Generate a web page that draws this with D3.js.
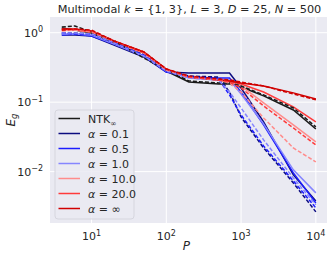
<!DOCTYPE html>
<html>
<head>
<meta charset="utf-8">
<script src="https://cdn.jsdelivr.net/npm/d3@7"></script>
<style>
  body { margin: 0; background: #fff; }
  text { font-family: "DejaVu Sans", sans-serif; fill: #262626; }
</style>
</head>
<body>
<div class="chart"></div>
<script>
(function () {

  var width = 333, height = 258;
  var margin = { top: 17, right: 6, bottom: 35, left: 50 };

  // sample sizes
  var P = [4, 6, 10, 20, 50, 100, 200, 500, 700, 1000, 2000, 5000, 10000];

  // generalization error, solid = theory, dashed = experiment
  var ntkSolid   = [1.169, 1.094, 0.990, 0.711, 0.462, 0.281, 0.195, 0.183, 0.183, 0.165, 0.123, 0.0772, 0.0411];
  var ntkDashed  = [1.208, 1.249, 1.023, 0.760, 0.433, 0.290, 0.202, 0.189, 0.189, 0.171, 0.127, 0.0825, 0.0440];
  var a01Solid   = [0.927, 0.927, 0.897, 0.665, 0.447, 0.272, 0.263, 0.263, 0.263, 0.160, 0.0519, 0.00896, 0.00379];
  var a01Dashed  = [0.990, 0.990, 0.958, 0.711, 0.478, 0.281, 0.238, 0.230, 0.140, 0.0612, 0.0219, 0.00688, 0.00263];
  var a05Solid   = [0.927, 0.958, 0.897, 0.688, 0.462, 0.272, 0.230, 0.223, 0.223, 0.140, 0.0470, 0.00958, 0.00354];
  var a05Dashed  = [0.990, 0.958, 0.958, 0.711, 0.478, 0.281, 0.230, 0.216, 0.127, 0.0654, 0.0234, 0.00735, 0.00300];
  var a1Solid    = [0.958, 0.958, 0.927, 0.688, 0.462, 0.281, 0.223, 0.209, 0.209, 0.131, 0.0486, 0.0106, 0.00494];
  var a1Dashed   = [0.990, 0.990, 0.958, 0.711, 0.462, 0.281, 0.223, 0.209, 0.140, 0.0825, 0.0286, 0.00812, 0.00332];
  var a10Solid   = [1.094, 1.094, 1.023, 0.735, 0.510, 0.290, 0.230, 0.209, 0.195, 0.171, 0.0974, 0.0470, 0.0268];
  var a10Dashed  = [1.058, 1.094, 1.023, 0.760, 0.510, 0.290, 0.230, 0.209, 0.189, 0.140, 0.0593, 0.0219, 0.0138];
  var a20Solid   = [1.131, 1.094, 1.023, 0.760, 0.510, 0.290, 0.230, 0.209, 0.202, 0.183, 0.140, 0.0853, 0.0519];
  var a20Dashed  = [1.094, 1.131, 1.058, 0.760, 0.528, 0.300, 0.230, 0.209, 0.195, 0.160, 0.0882, 0.0425, 0.0242];
  var aInfSolid  = [1.131, 1.131, 1.058, 0.760, 0.528, 0.300, 0.230, 0.209, 0.202, 0.189, 0.171, 0.136, 0.111];
  var aInfDashed = [1.094, 1.131, 1.094, 0.760, 0.528, 0.300, 0.238, 0.216, 0.209, 0.195, 0.171, 0.131, 0.108];

  var labels = ["NTK", "0.1", "0.5", "1.0", "10.0", "20.0", "\u221e"];
  var colors = ["#1a1a1a", "#0c0c80", "#1c1cff", "#8585ff", "#ff8c8c", "#ff3b3b", "#d00000"];
  var solids = [ntkSolid, a01Solid, a05Solid, a1Solid, a10Solid, a20Solid, aInfSolid];
  var dashes = [ntkDashed, a01Dashed, a05Dashed, a1Dashed, a10Dashed, a20Dashed, aInfDashed];

  var xTicks = [10, 100, 1000, 10000];
  var yTicks = [1, 0.1, 0.01];

  var svg = d3.select(".chart").append("svg")
    .attr("width", width)
    .attr("height", height);

  var pw = width - margin.left - margin.right,
      ph = height - margin.top - margin.bottom;

  var x = d3.scaleLog().domain([2.78, 14100]).range([0, pw]);
  var y = d3.scaleLog().domain([0.00182, 1.683]).range([ph, 0]);

  var g = svg.append("g")
    .attr("transform", "translate(" + margin.left + "," + margin.top + ")");

  g.append("rect").attr("width", pw).attr("height", ph).attr("fill", "#eaeaf2");

  // grid
  g.selectAll(".xg").data(xTicks).enter().append("line")
    .attr("x1", d => x(d)).attr("x2", d => x(d))
    .attr("y1", 0).attr("y2", ph)
    .attr("stroke", "#fff").attr("stroke-width", 1);
  g.selectAll(".yg").data(yTicks).enter().append("line")
    .attr("y1", d => y(d)).attr("y2", d => y(d))
    .attr("x1", 0).attr("x2", pw)
    .attr("stroke", "#fff").attr("stroke-width", 1);

  // tick labels
  var xl = g.selectAll(".xl").data(xTicks).enter().append("text")
    .attr("x", d => x(d)).attr("y", ph + 17)
    .attr("text-anchor", "middle").style("font-size", "11px");
  xl.append("tspan").text("10");
  xl.append("tspan").attr("dy", -4.5).style("font-size", "8px").text(d => Math.round(Math.log10(d)));

  var yl = g.selectAll(".yl").data(yTicks).enter().append("text")
    .attr("x", -7).attr("y", d => y(d) + 4)
    .attr("text-anchor", "end").style("font-size", "11px");
  yl.append("tspan").text("10");
  yl.append("tspan").attr("dy", -4.5).style("font-size", "8px")
    .text(d => d === 1 ? "0" : "\u2212" + Math.round(-Math.log10(d)));

  // lines
  var line = d3.line()
    .x((d, i) => x(P[i]))
    .y(d => y(d));

  g.append("clipPath").attr("id", "clip")
    .append("rect").attr("width", pw).attr("height", ph);
  var lines = g.append("g").attr("clip-path", "url(#clip)");

  solids.forEach(function (s, i) {
    lines.append("path").datum(s)
      .attr("d", line).attr("fill", "none")
      .attr("stroke", colors[i]).attr("stroke-width", 1.5);
  });
  dashes.forEach(function (s, i) {
    lines.append("path").datum(s)
      .attr("d", line).attr("fill", "none")
      .attr("stroke", colors[i]).attr("stroke-width", 1.5)
      .attr("stroke-dasharray", "4,2");
  });

  // legend
  var lg = g.append("g").attr("transform", "translate(5,93)");
  lg.append("rect")
    .attr("width", 79).attr("height", 109).attr("rx", 3)
    .attr("fill", "#eaeaf2").attr("fill-opacity", 0.85)
    .attr("stroke", "#d6d6de").attr("stroke-width", 1);

  var item = lg.selectAll(".item").data(labels).enter().append("g")
    .attr("transform", (d, i) => "translate(0," + (8.5 + i * 15) + ")");
  item.append("line")
    .attr("x1", 3.5).attr("x2", 25)
    .attr("stroke", (d, i) => colors[i]).attr("stroke-width", 1.5);
  var it = item.append("text").attr("x", 33).attr("y", 4).style("font-size", "11px");
  it.each(function (d, i) {
    var t = d3.select(this);
    if (i === 0) {
      t.append("tspan").text("NTK");
      t.append("tspan").attr("dy", 3).style("font-size", "7.5px").text("\u221e");
    } else {
      t.append("tspan").style("font-style", "italic").text("\u03b1");
      t.append("tspan").text(" = " + d);
    }
  });

  // title
  var title = svg.append("text")
    .attr("x", margin.left + pw / 2 + 1).attr("y", 13)
    .attr("text-anchor", "middle").style("font-size", "11.3px");
  title.append("tspan").text("Multimodal ");
  title.append("tspan").style("font-style", "italic").text("k");
  title.append("tspan").text(" = {1, 3}, ");
  title.append("tspan").style("font-style", "italic").text("L");
  title.append("tspan").text(" = 3, ");
  title.append("tspan").style("font-style", "italic").text("D");
  title.append("tspan").text(" = 25, ");
  title.append("tspan").style("font-style", "italic").text("N");
  title.append("tspan").text(" = 500");

  // axis labels
  svg.append("text")
    .attr("x", margin.left + x(100) + 20).attr("y", 250)
    .attr("text-anchor", "middle").style("font-size", "12px").style("font-style", "italic")
    .text("P");
  var yt = svg.append("text")
    .attr("transform", "translate(15," + (margin.top + ph / 2) + ") rotate(-90)")
    .attr("text-anchor", "middle").style("font-size", "12px");
  yt.append("tspan").style("font-style", "italic").text("E");
  yt.append("tspan").attr("dy", 2).style("font-size", "8.5px").style("font-style", "italic").text("g");

})();
</script>
</body>
</html>
